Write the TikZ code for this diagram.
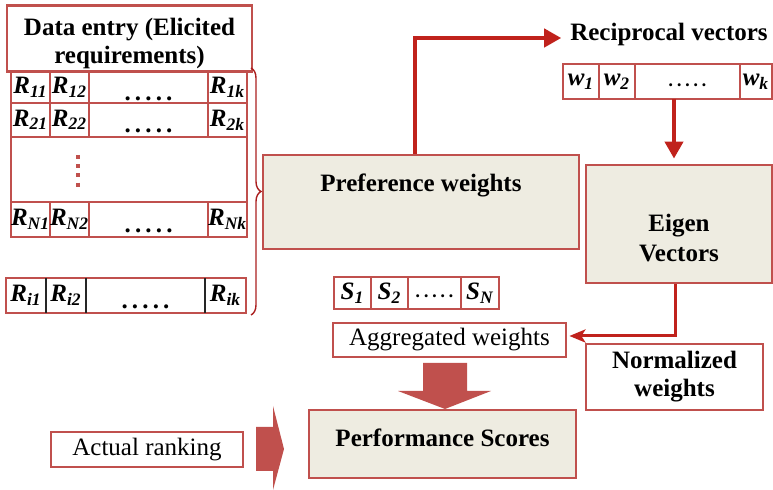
\documentclass[tikz,border=0pt]{standalone}
\usepackage{fontspec}
\setmainfont{Liberation Serif}
\usepackage{tikz}
\usetikzlibrary{shapes,arrows.meta,positioning,decorations.pathreplacing}
\newcommand{\figfont}{\fontsize{12.5}{14}\selectfont}
\newcommand{\req}[1]{R\textsubscript{#1}}
\newcommand{\wgt}[1]{w\textsubscript{#1}}
\newcommand{\scorev}[1]{S\textsubscript{#1}}
\newcommand{\lowdots}{\raisebox{-6.5pt}[0pt][0pt]{.\,.\,.\,.\,.}}
\newcommand{\middots}{\raisebox{-6pt}[0pt][0pt]{·····}}
\definecolor{boxred}{RGB}{192, 80, 77}
\definecolor{beige}{RGB}{238, 236, 225}
\definecolor{linkred}{RGB}{192, 34, 28}
\definecolor{bracered}{RGB}{170, 30, 30}
\tikzstyle{rcell} = [rectangle, draw=boxred, line width=1.1pt, fill=white, text=black, inner sep=0pt, outer sep=0pt, minimum width=19.5pt, minimum height=17pt, font=\figfont\bfseries\itshape]
\tikzstyle{widecell} = [rcell, minimum width=59.5pt, font=\figfont\bfseries]
\tikzstyle{stage} = [rectangle, draw=boxred, line width=1.4pt, fill=beige, text=black, align=center, font=\figfont\bfseries, inner sep=2pt]
\tikzstyle{infobox} = [rectangle, draw=boxred, line width=1.4pt, fill=white, text=black, align=center, font=\figfont, inner sep=2pt]
\tikzstyle{sepline} = [draw=black!85, line width=1.1pt]
\tikzstyle{tedge} = [draw=linkred, line width=2pt, -{Triangle[length=8.5pt, width=9pt]}]
\tikzstyle{ledge} = [draw=linkred, line width=1.5pt, -{Stealth[length=8pt, width=6.5pt, inset=2pt]}]
\tikzstyle{blockarrow} = [fill=boxred, draw=none]
\tikzstyle{bracedeco} = [draw=bracered, line width=0.7pt, decorate, decoration={brace, amplitude=5pt}]
\begin{document}
\begin{tikzpicture}[x=0.5pt, y=-0.5pt]
\useasboundingbox (0,0) rectangle (773,490);

% Data entry =============================
\node[infobox, font=\figfont\bfseries, minimum width=122.5pt, minimum height=29.5pt, text height=27pt, text depth=2pt] (entry) at (129.5,38.5) {Data entry (Elicited\\requirements)};

\node[rcell, minimum height=15.5pt] (r11) at (30.5,87.5) {\req{11}};
\node[rcell, minimum height=15.5pt, right=0pt of r11] (r12) {\req{12}};
\node[widecell, minimum height=15.5pt, right=0pt of r12] (r1d) {\lowdots};
\node[rcell, minimum height=15.5pt, right=0pt of r1d] (r1k) {\req{1k}};

\node[rcell, below=0pt of r11] (r21) {\req{21}};
\node[rcell, right=0pt of r21] (r22) {\req{22}};
\node[widecell, right=0pt of r22] (r2d) {\lowdots};
\node[rcell, right=0pt of r2d] (r2k) {\req{2k}};

\node[rcell, minimum width=118pt, minimum height=32.5pt, below right=0pt of r21.south west] (rgap) {};
\draw[boxred, line width=2pt, dash pattern=on 2pt off 2.6pt] ([xshift=33.5pt, yshift=-9pt]rgap.north west) -- ([xshift=33.5pt, yshift=6.5pt]rgap.south west);

\node[rcell, minimum height=17.5pt, below right=0pt of rgap.south west] (rN1) {\req{N1}};
\node[rcell, minimum height=17.5pt, right=0pt of rN1] (rN2) {\req{N2}};
\node[widecell, minimum height=17.5pt, right=0pt of rN2] (rNd) {\lowdots};
\node[rcell, minimum height=17.5pt, right=0pt of rNd] (rNk) {\req{Nk}};

% single requirement row
\node[rcell, minimum width=20pt, minimum height=17.5pt] (ri1) at (26,295.5) {\req{i1}};
\node[rcell, minimum width=20pt, minimum height=17.5pt, right=0pt of ri1] (ri2) {\req{i2}};
\node[widecell, minimum height=17.5pt, right=0pt of ri2] (rid) {\lowdots};
\node[rcell, minimum width=20.5pt, minimum height=17.5pt, right=0pt of rid] (rik) {\req{ik}};
\draw[sepline] (ri1.north east) -- (ri1.south east);
\draw[sepline] (ri2.north east) -- (ri2.south east);
\draw[sepline] (rid.north east) -- (rid.south east);

\draw[bracedeco] (251,68) -- (251,315);

% Weights =============================
\node[stage, minimum width=158pt, minimum height=47pt, text height=9pt, text depth=19pt] (pref) at (421,202) {Preference weights};

\node[font=\figfont\bfseries] (recip) at (669,34) {Reciprocal vectors};
\node[rcell, minimum width=18pt, minimum height=17.5pt] (w1) at (581,81.5) {\wgt{1}};
\node[rcell, minimum width=18pt, minimum height=17.5pt, right=0pt of w1] (w2) {\wgt{2}};
\node[rcell, minimum width=52.5pt, minimum height=17.5pt, font=\figfont, right=0pt of w2] (wd) {\middots};
\node[rcell, minimum width=16pt, minimum height=17.5pt, right=0pt of wd] (wk) {\wgt{k}};

\node[stage, minimum width=93pt, minimum height=59pt, text height=37.5pt, text depth=0pt] (eig) at (679,224) {Eigen\\[1pt]Vectors};
\node[infobox, font=\figfont\bfseries, minimum width=88.5pt, minimum height=33pt] (norm) at (674.5,377) {Normalized\\weights};

% Scores =============================
\node[rcell, minimum width=18.5pt, minimum height=16pt] (s1) at (352.5,293) {\scorev{1}};
\node[rcell, minimum width=18.5pt, minimum height=16pt, right=0pt of s1] (s2) {\scorev{2}};
\node[rcell, minimum width=26.5pt, minimum height=16pt, font=\figfont, right=0pt of s2] (sd) {\middots};
\node[rcell, minimum width=19pt, minimum height=16pt, right=0pt of sd] (sN) {\scorev{N}};

\node[infobox, minimum width=116.5pt, minimum height=17pt] (agg) at (449.5,340) {Aggregated weights};
\node[stage, minimum width=133.5pt, minimum height=34pt, text height=9pt, text depth=6pt] (perf) at (442.5,444) {Performance Scores};
\node[infobox, minimum width=96pt, minimum height=17.5pt] (actual) at (147,449.5) {Actual ranking};

% edges
\path[tedge, shorten >=1pt] ([xshift=-3pt]pref.north) |- ([yshift=-2pt]recip.west);
\path[tedge, shorten >=2.5pt] ([xshift=-2.5pt]eig.north |- wd.south) -- ([xshift=-2.5pt]eig.north);
\path[ledge, shorten >=1pt] ([xshift=-2pt]eig.south) |- ([yshift=2pt]agg.east);

\fill[blockarrow] (423,363) -- (467,363) -- (467,391) -- (491,391) -- (445,409) -- (398,391) -- (423,391) -- cycle;
\fill[blockarrow] (256,427) -- (273,427) -- (273,406) -- (284,449) -- (273,490) -- (273,471) -- (256,471) -- cycle;

\end{tikzpicture}
\end{document}
